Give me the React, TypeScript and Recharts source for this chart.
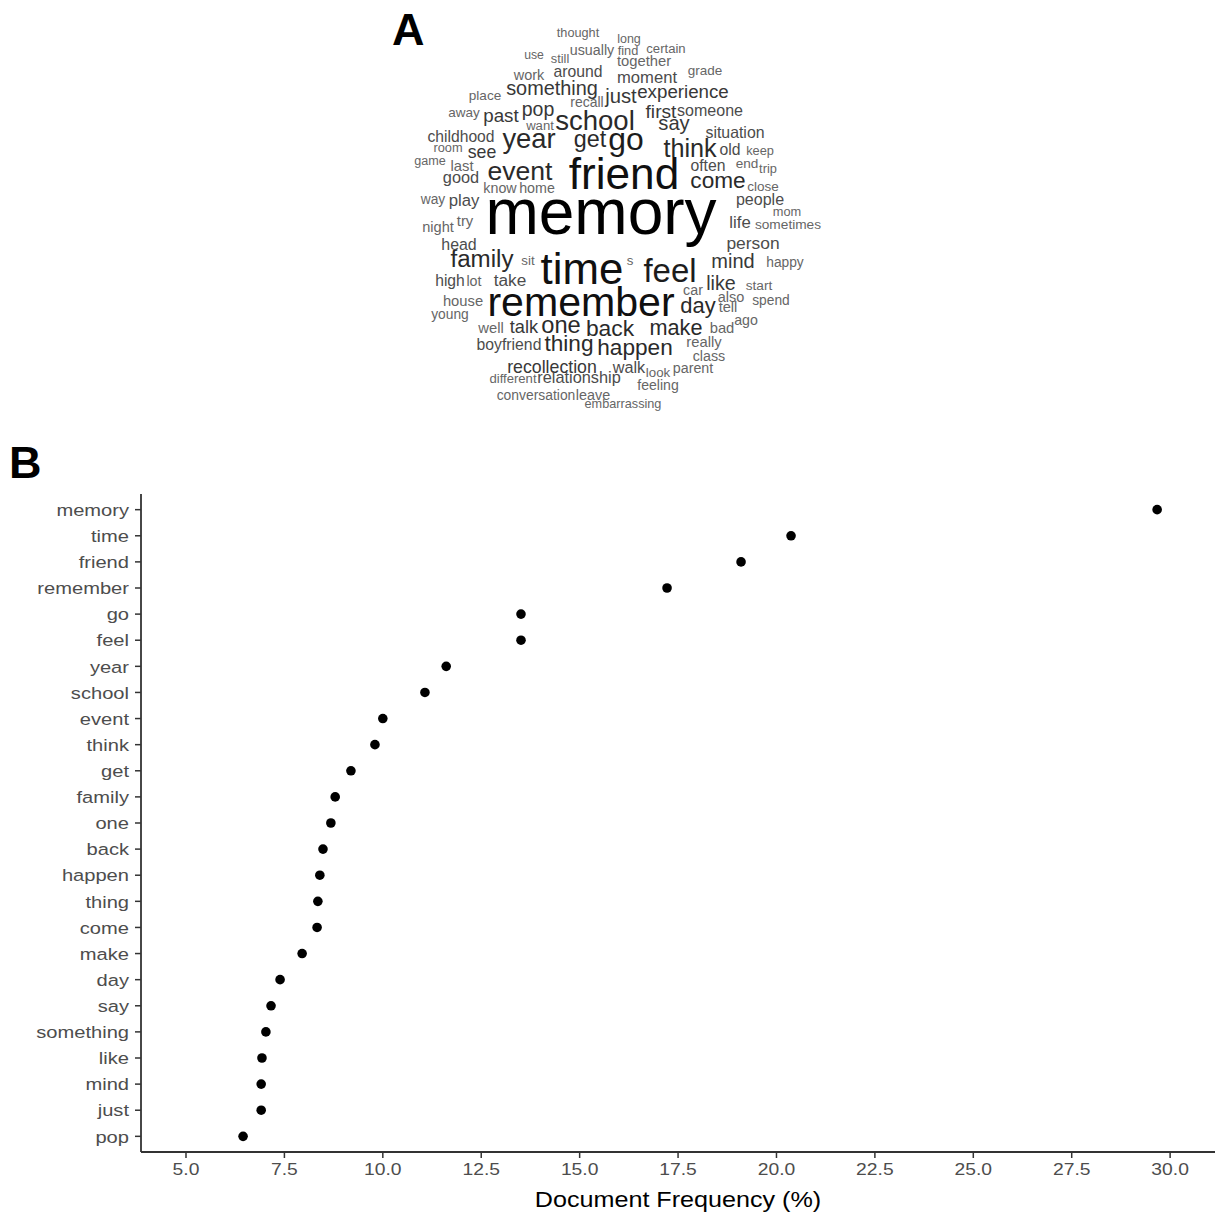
import React from 'react';
import { ScatterChart, Scatter, XAxis, YAxis } from 'recharts';

// ---------- Panel B data ----------
const terms = ['memory', 'time', 'friend', 'remember', 'go', 'feel', 'year', 'school', 'event', 'think', 'get', 'family', 'one', 'back', 'happen', 'thing', 'come', 'make', 'day', 'say', 'something', 'like', 'mind', 'just', 'pop'];
const docFreq = [29.67, 20.37, 19.1, 17.22, 13.51, 13.51, 11.61, 11.07, 10.0, 9.8, 9.19, 8.79, 8.68, 8.48, 8.4, 8.35, 8.33, 7.95, 7.39, 7.16, 7.03, 6.93, 6.91, 6.91, 6.45];
const xTicks = [5, 7.5, 10, 12.5, 15, 17.5, 20, 22.5, 25, 27.5, 30];

// ---------- Panel A (word cloud) data ----------
const cloudWords = ['memory','friend','time','remember','feel','go','school','year','event','think','family','one','get','back','happen','thing','come','make','day','say','something','like','mind','just','pop','experience','first','past','talk','see','recollection','take','person','life','moment','relationship','play','good','walk','people','someone','head','situation','around','childhood','boyfriend','high','often','old','house','together','really','well','night','try','lot','last','tell','also','leave','work','class','parent','usually','know','home','bad','ago','car','feeling','recall','look','conversation','young','way','happy','spend','start','sometimes','place','end','away','grade','close','certain','want','different','sit','s','find','still','room','keep','trip','mom','thought','embarrassing','game','long','use'];
const cloudFreq = [1500,986,979,908,699,671,559,554,534,498,470,458,450,437,432,432,432,407,414,369,361,356,364,371,351,331,343,331,318,305,305,292,297,280,277,269,280,269,267,262,262,259,257,254,252,254,252,254,254,229,229,229,229,224,229,216,229,226,221,219,221,216,216,216,216,216,229,214,216,211,208,191,206,203,203,203,203,201,201,198,198,196,196,196,186,186,186,191,191,178,178,178,178,178,178,175,175,173,170,163];
// layout coordinates of each word in the cloud (centre x, baseline y)
const cloudX = [601,624,582,581,670,626,595,529,520,690,482,561,590,610,635,569,718,676,698,674,552,721,733,621,538,683,661,501,524,482,552,510,753,740,647,579,464,461,629,760,710,459,735,578,461,509,450,708,730,463,644,704,491,438,465,474,462,728,731,593,529,709,693,592,500,537,722,746,693,658,587,658,536,450,433,785,771,759,788,485,747,464,705,763,666,540,513,528,630,628,560,448,760,768,787,578,623,430,629,534];
const cloudY = [234,189,284,316,282,150,130,148,180,157,267,333,147,336,355,351,188,335,313,130,95,290,268,103,116,98,118,122,333,158,373,286,249,228,83,383,206,183,373,205,116,250,138,77,142,350,286,171,155,306,66,347,333,232,226,286,171,312,302,400,80,361,373,55,193,193,333,325,295,390,107,377,400,319,204,267,305,290,229,100,168,117,75,191,53,130,383,265,265,55,63,152,155,173,216,37,408,165,43,59];

const FONT = "'Liberation Sans', Arial, Helvetica, sans-serif";
const STRETCH = 1.17;

const maxCloud = Math.max(...cloudFreq);
function cloudColor(norm: number) {
  if (norm >= 0.85) return '#000000';
  if (norm >= 0.55) return '#101010';
  if (norm >= 0.4) return '#1c1c1c';
  if (norm >= 0.27) return '#2a2a2a';
  if (norm >= 0.2) return '#383838';
  if (norm >= 0.165) return '#4c4c4c';
  return '#666666';
}
const cloudData = cloudWords.map((w, i) => {
  const norm = cloudFreq[i] / maxCloud;
  return { word: w, x: cloudX[i], y: cloudY[i], size: (6 + 59 * norm) * 0.985, color: cloudColor(norm) };
});

const dotData = terms.map((t, i) => ({ term: t, rank: i, freq: docFreq[i] }));

const YTick = (props: any) => {
  const { x, y, payload } = props;
  return (
    <g transform={`translate(${x},${y})`}>
      <text transform={`scale(${STRETCH},1)`} textAnchor="end" dy="0.36em" fontSize={17.2} fill="#4d4d4d" fontFamily={FONT}>
        {terms[payload.value]}
      </text>
    </g>
  );
};

const XTick = (props: any) => {
  const { x, y, payload } = props;
  return (
    <g transform={`translate(${x},${y})`}>
      <text transform={`scale(${STRETCH},1)`} textAnchor="middle" y={13} fontSize={16.5} fill="#4d4d4d" fontFamily={FONT}>
        {Number(payload.value).toFixed(1)}
      </text>
    </g>
  );
};

const XTitle = (props: any) => {
  const vb = props.viewBox || {};
  const cx = vb.x + vb.width / 2;
  return (
    <g transform={`translate(${cx},${vb.y + 55})`}>
      <text transform={`scale(${STRETCH},1)`} textAnchor="middle" fontSize={21.5} fill="#000000" fontFamily={FONT}>
        Document Frequency (%)
      </text>
    </g>
  );
};

const CloudWord = (p: any) => {
  const d = p.payload;
  return (
    <text x={p.cx} y={p.cy} textAnchor="middle" fontSize={d.size} fill={d.color} fontFamily={FONT}>
      {d.word}
    </text>
  );
};

const Dot = (p: any) => <circle cx={p.cx} cy={p.cy} r={4.8} fill="#000000" />;

export default function App() {
  return (
    <div style={{ position: 'absolute', left: 0, top: 0, width: 1217, height: 1217, background: '#ffffff' }}>
      <div style={{ position: 'absolute', left: 380, top: 15 }}>
        <ScatterChart width={460} height={410} margin={{ top: 0, right: 0, bottom: 0, left: 0 }}>
          <XAxis type="number" dataKey="x" domain={[380, 840]} hide />
          <YAxis type="number" dataKey="y" domain={[15, 425]} reversed hide width={0} />
          <Scatter data={cloudData} shape={CloudWord} isAnimationActive={false} />
        </ScatterChart>
      </div>
      <div style={{ position: 'absolute', left: 0, top: 430 }}>
        <ScatterChart width={1217} height={787} margin={{ top: 64, right: 2, bottom: 5, left: 8 }}>
          <XAxis
            type="number"
            dataKey="freq"
            domain={[3.857, 31.14]}
            ticks={xTicks}
            interval={0}
            height={60}
            tick={XTick}
            tickSize={6}
            tickMargin={4}
            axisLine={{ stroke: '#333333', strokeWidth: 1.8 }}
            tickLine={{ stroke: '#333333', strokeWidth: 1.5 }}
            label={{ content: XTitle }}
            allowDataOverflow
          />
          <YAxis
            type="number"
            dataKey="rank"
            domain={[-0.6, 24.6]}
            reversed
            ticks={terms.map((_, i) => i)}
            interval={0}
            width={133}
            tick={YTick}
            tickSize={6}
            tickMargin={6}
            axisLine={{ stroke: '#333333', strokeWidth: 1.8 }}
            tickLine={{ stroke: '#333333', strokeWidth: 1.5 }}
            allowDataOverflow
          />
          <Scatter data={dotData} shape={Dot} isAnimationActive={false} />
        </ScatterChart>
      </div>
      <svg width={1217} height={1217} style={{ position: 'absolute', left: 0, top: 0, pointerEvents: 'none' }}>
        <text x={392} y={45} fontSize={45} fontWeight="bold" fontFamily={FONT} fill="#000000">A</text>
        <text x={9} y={478} fontSize={45} fontWeight="bold" fontFamily={FONT} fill="#000000">B</text>
      </svg>
    </div>
  );
}
